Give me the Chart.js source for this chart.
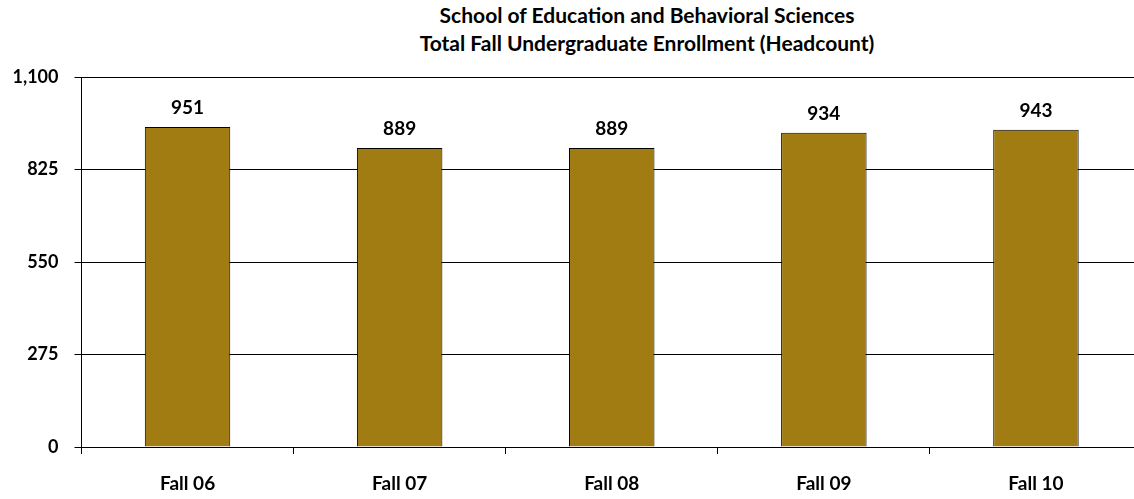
<!DOCTYPE html>
<html>
<head>
<meta charset="utf-8">
<script src="https://cdn.jsdelivr.net/npm/chart.js@4.4.1/dist/chart.umd.min.js"></script>
<style>
html,body{margin:0;padding:0;background:#fff;overflow:hidden;width:1134px;height:499px;}
#wrap{position:relative;width:1150px;height:499px;}
#title{position:absolute;top:1px;left:647px;transform:translateX(-50%);white-space:nowrap;text-align:center;
 font-family:Lato,"Open Sans",sans-serif;font-weight:bold;font-size:21px;line-height:28px;color:#000;}
canvas{position:absolute;left:0;top:0;}
</style>
</head>
<body>
<div id="wrap">
<div id="title">School of Education and Behavioral Sciences<br>Total Fall Undergraduate Enrollment (Headcount)</div>
<canvas id="c" width="1150" height="499"></canvas>
</div>
<script>
const categories = ["Fall 06", "Fall 07", "Fall 08", "Fall 09", "Fall 10"];
const enrollment = [951, 889, 889, 934, 943];
const yTicks = [0, 275, 550, 825, 1100];

const valueLabels = {
  id: 'valueLabels',
  afterDatasetsDraw(chart) {
    const ctx = chart.ctx;
    const meta = chart.getDatasetMeta(0);
    ctx.save();
    ctx.font = 'bold 19px Lato, "Open Sans", sans-serif';
    ctx.fillStyle = '#000';
    ctx.textAlign = 'center';
    ctx.textBaseline = 'middle';
    meta.data.forEach((bar, i) => {
      ctx.fillText(String(chart.data.datasets[0].data[i]), bar.x, bar.y - 19);
    });
    ctx.restore();
  }
};

new Chart(document.getElementById('c'), {
  type: 'bar',
  data: {
    labels: categories,
    datasets: [{
      data: enrollment,
      backgroundColor: '#A07C12',
      borderColor: '#000',
      borderWidth: 1,
      categoryPercentage: 1,
      barPercentage: 0.403
    }]
  },
  options: {
    responsive: false,
    devicePixelRatio: 1,
    animation: false,
    layout: { padding: { top: 77, right: 8, left: 0, bottom: 0 } },
    plugins: { legend: { display: false }, title: { display: false }, tooltip: { enabled: false } },
    scales: {
      x: {
        afterFit(s) { s.height = 52; },
        grid: { offset: true, drawOnChartArea: false, drawTicks: true, tickLength: 7, color: '#000', lineWidth: 1 },
        border: { display: true, color: '#000', width: 1 },
        ticks: { color: '#000', padding: 18, font: { family: 'Lato, "Open Sans", sans-serif', weight: 'bold', size: 19 } }
      },
      y: {
        min: 0,
        max: 1100,
        afterFit(s) { s.width = 81.5; },
        afterBuildTicks(s) { s.ticks = yTicks.map(v => ({ value: v })); },
        grid: { color: '#000', lineWidth: 1, tickLength: 7, drawTicks: true },
        border: { display: true, color: '#000', width: 1 },
        ticks: {
          color: '#000', padding: 16,
          font: { family: 'Lato, "Open Sans", sans-serif', weight: 'bold', size: 18 },
          callback: v => Number(v).toLocaleString('en-US')
        }
      }
    }
  },
  plugins: [valueLabels]
});
</script>
</body>
</html>
